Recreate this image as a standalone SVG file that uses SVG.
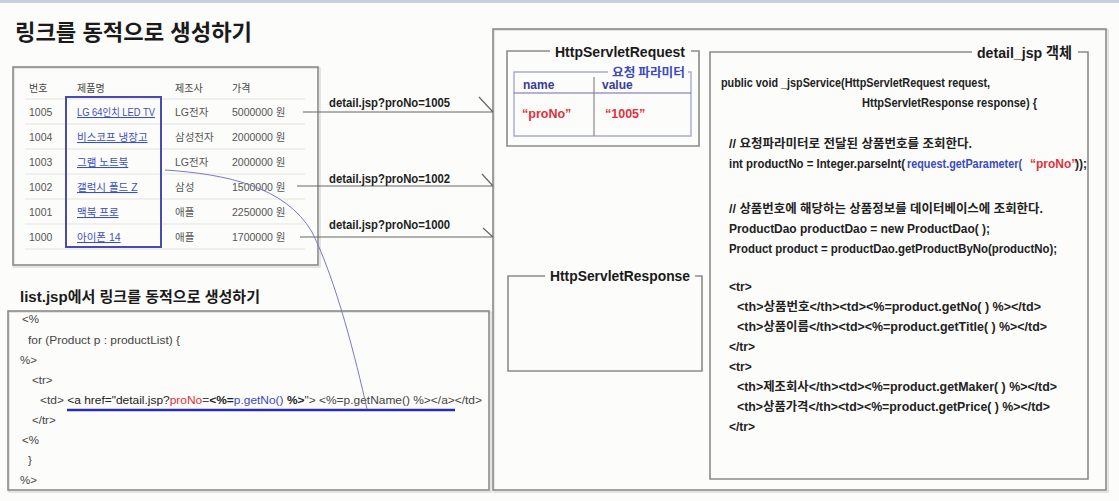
<svg xmlns="http://www.w3.org/2000/svg" width="1119" height="501" viewBox="0 0 1119 501">
<defs>
<style>
.bg{fill:#fcfcfa}
.frame{fill:none;stroke:#8a8a8a;stroke-width:1.6}
.shadow{fill:none;stroke:#d4d4d4;stroke-width:1.2}
.ttl{font-family:"Liberation Sans","Noto Sans CJK KR",sans-serif;font-weight:bold;fill:#1a1a1a}
.th{font-family:"Noto Sans CJK KR",sans-serif;font-size:10px;fill:#444}
.td{font-family:"Liberation Sans","Noto Sans CJK KR",sans-serif;font-size:10.5px;fill:#555}
.lnk{font-family:"Liberation Sans","Noto Sans CJK KR",sans-serif;font-size:10.5px;fill:#3b4fc4;text-decoration:underline}
.sep{stroke:#e2e2e2;stroke-width:1}
.rc{font-family:"Liberation Sans","Noto Sans CJK KR",sans-serif;font-size:12px;font-weight:bold;fill:#222}
.lc{font-family:"Liberation Sans","Noto Sans CJK KR",sans-serif;font-size:11.5px;fill:#444}
.url{font-family:"Liberation Sans","Noto Sans CJK KR",sans-serif;font-size:12px;font-weight:bold;fill:#222}
.blue{fill:#3a4ac0}
.red{fill:#e0303a}
.conn{fill:none;stroke:#666;stroke-width:1.2}
</style>
</defs>
<rect class="bg" x="0" y="0" width="1119" height="501"/>
<rect x="0" y="0" width="1119" height="3" fill="#c9cfdc"/>

<text class="ttl" x="15" y="40" font-size="22" textLength="237" lengthAdjust="spacingAndGlyphs">링크를 동적으로 생성하기</text>

<g id="product-table">
<rect class="shadow" x="14" y="68" width="306" height="199"/>
<rect class="frame" x="13" y="67" width="305" height="198" fill="#fdfdfc"/>
<text class="th" x="29" y="92">번호</text>
<text class="th" x="77" y="92">제품명</text>
<text class="th" x="175" y="92">제조사</text>
<text class="th" x="232" y="92">가격</text>
<line class="sep" x1="25" y1="99" x2="305" y2="99"/>
<line class="sep" x1="25" y1="124" x2="305" y2="124"/>
<line class="sep" x1="25" y1="149" x2="305" y2="149"/>
<line class="sep" x1="25" y1="174" x2="305" y2="174"/>
<line class="sep" x1="25" y1="199" x2="305" y2="199"/>
<line class="sep" x1="25" y1="224" x2="305" y2="224"/>
<line class="sep" x1="25" y1="249" x2="305" y2="249"/>
<text class="td" x="29" y="116">1005</text>
<text class="lnk" x="77" y="116" textLength="78" lengthAdjust="spacingAndGlyphs">LG 64인치 LED TV</text>
<text class="td" x="175" y="116">LG전자</text>
<text class="td" x="232" y="116">5000000 원</text>
<text class="td" x="29" y="141">1004</text>
<text class="lnk" x="77" y="141">비스코프 냉장고</text>
<text class="td" x="175" y="141">삼성전자</text>
<text class="td" x="232" y="141">2000000 원</text>
<text class="td" x="29" y="166">1003</text>
<text class="lnk" x="77" y="166">그램 노트북</text>
<text class="td" x="175" y="166">LG전자</text>
<text class="td" x="232" y="166">2000000 원</text>
<text class="td" x="29" y="191">1002</text>
<text class="lnk" x="77" y="191">갤럭시 폴드 Z</text>
<text class="td" x="175" y="191">삼성</text>
<text class="td" x="232" y="191">1500000 원</text>
<text class="td" x="29" y="216">1001</text>
<text class="lnk" x="77" y="216">맥북 프로</text>
<text class="td" x="175" y="216">애플</text>
<text class="td" x="232" y="216">2250000 원</text>
<text class="td" x="29" y="241">1000</text>
<text class="lnk" x="77" y="241">아이폰 14</text>
<text class="td" x="175" y="241">애플</text>
<text class="td" x="232" y="241">1700000 원</text>
<rect x="66" y="97" width="95" height="150" fill="none" stroke="#4a4ab0" stroke-width="2"/>
</g>

<g id="list-jsp">
<text class="ttl" x="20" y="302" font-size="15" textLength="240" lengthAdjust="spacingAndGlyphs">list.jsp에서 링크를 동적으로 생성하기</text>
<rect class="shadow" x="9" y="312" width="482" height="180"/>
<rect class="frame" x="8" y="311" width="481" height="179" fill="#fdfdfc"/>
<text class="lc" x="22" y="323">&lt;%</text>
<text class="lc" x="28" y="344" textLength="152" lengthAdjust="spacingAndGlyphs">for (Product p : productList) {</text>
<text class="lc" x="20" y="364">%&gt;</text>
<text class="lc" x="32" y="384">&lt;tr&gt;</text>
<text class="lc" x="40" y="404" textLength="442" lengthAdjust="spacingAndGlyphs">&lt;td&gt; <tspan fill="#222">&lt;a href="detail.jsp?</tspan><tspan class="red">proNo</tspan>=<tspan font-weight="bold" fill="#222">&lt;%=</tspan><tspan class="blue">p.getNo()</tspan><tspan font-weight="bold" fill="#222"> %&gt;</tspan>"&gt; &lt;%=p.getName() %&gt;&lt;/a&gt;&lt;/td&gt;</text>
<line x1="67" y1="410" x2="455" y2="410" stroke="#2b2bb0" stroke-width="2.5"/>
<text class="lc" x="32" y="424">&lt;/tr&gt;</text>
<text class="lc" x="22" y="444">&lt;%</text>
<text class="lc" x="28" y="464">}</text>
<text class="lc" x="20" y="484">%&gt;</text>
</g>

<g id="server-container">
<rect class="shadow" x="494" y="30" width="614" height="462"/>
<rect class="frame" x="493" y="29" width="613" height="461" fill="#fdfdfc"/>
</g>

<g id="http-servlet-request">
<path class="frame" d="M550,51 H507 V146 H699 V51 H691"/>
<text class="ttl" x="620" y="57" font-size="15" text-anchor="middle" textLength="130" lengthAdjust="spacingAndGlyphs">HttpServletRequest</text>
<g id="request-params">
<path d="M608,72 H514 V136 H691 V72 H688" fill="none" stroke="#a8a8d4" stroke-width="1.4"/>
<text x="612" y="77" font-family="Noto Sans CJK KR, sans-serif" font-size="12" font-weight="bold" class="blue" textLength="73" lengthAdjust="spacingAndGlyphs">요청 파라미터</text>
<text x="523" y="89" font-family="Liberation Sans, sans-serif" font-size="12" font-weight="bold" fill="#3b3b9b">name</text>
<text x="602" y="89" font-family="Liberation Sans, sans-serif" font-size="12" font-weight="bold" fill="#3b3b9b">value</text>
<line x1="514" y1="93" x2="691" y2="93" stroke="#6a6aa8" stroke-width="1.2"/>
<line x1="594" y1="77" x2="594" y2="136" stroke="#888" stroke-width="1.2"/>
<text x="522" y="118" font-family="Liberation Sans, sans-serif" font-size="12.5" font-weight="bold" class="red">“proNo”</text>
<text x="605" y="118" font-family="Liberation Sans, sans-serif" font-size="12.5" font-weight="bold" class="red">“1005”</text>
</g>
</g>

<g id="http-servlet-response">
<path class="frame" d="M545,276 H508 V371 H702 V276 H695"/>
<text class="ttl" x="620" y="281" font-size="15" text-anchor="middle" textLength="140" lengthAdjust="spacingAndGlyphs">HttpServletResponse</text>
</g>

<g id="detail-jsp">
<path class="frame" d="M972,52 H710 V479 H1088 V52 H1078"/>
<text class="ttl" x="977" y="58" font-size="15" textLength="95" lengthAdjust="spacingAndGlyphs">detail_jsp 객체</text>
<text class="rc" x="721" y="87" textLength="269" lengthAdjust="spacingAndGlyphs">public void _jspService(HttpServletRequest request,</text>
<text class="rc" x="862" y="107" textLength="175" lengthAdjust="spacingAndGlyphs">HttpServletResponse response) {</text>
<text class="rc" x="729" y="148" textLength="243" lengthAdjust="spacingAndGlyphs">// 요청파라미터로 전달된 상품번호를 조회한다.</text>
<text class="rc" x="729" y="168" textLength="176" lengthAdjust="spacingAndGlyphs">int productNo = Integer.parseInt(</text>
<text class="rc blue" x="907" y="168" textLength="115" lengthAdjust="spacingAndGlyphs">request.getParameter(</text>
<text class="rc red" x="1030" y="168" font-size="10.5">“proNo”</text>
<text class="rc" x="1075" y="168" font-size="11">));</text>
<text class="rc" x="729" y="213" textLength="314" lengthAdjust="spacingAndGlyphs">// 상품번호에 해당하는 상품정보를 데이터베이스에 조회한다.</text>
<text class="rc" x="729" y="233" textLength="261" lengthAdjust="spacingAndGlyphs">ProductDao productDao = new ProductDao( );</text>
<text class="rc" x="729" y="253" textLength="328" lengthAdjust="spacingAndGlyphs">Product product = productDao.getProductByNo(productNo);</text>
<text class="rc" x="729" y="291">&lt;tr&gt;</text>
<text class="rc" x="737" y="311" textLength="304" lengthAdjust="spacingAndGlyphs">&lt;th&gt;상품번호&lt;/th&gt;&lt;td&gt;&lt;%=product.getNo( ) %&gt;&lt;/td&gt;</text>
<text class="rc" x="737" y="331" textLength="310" lengthAdjust="spacingAndGlyphs">&lt;th&gt;상품이름&lt;/th&gt;&lt;td&gt;&lt;%=product.getTitle( ) %&gt;&lt;/td&gt;</text>
<text class="rc" x="729" y="351">&lt;/tr&gt;</text>
<text class="rc" x="729" y="371">&lt;tr&gt;</text>
<text class="rc" x="737" y="391" textLength="320" lengthAdjust="spacingAndGlyphs">&lt;th&gt;제조회사&lt;/th&gt;&lt;td&gt;&lt;%=product.getMaker( ) %&gt;&lt;/td&gt;</text>
<text class="rc" x="737" y="411" textLength="313" lengthAdjust="spacingAndGlyphs">&lt;th&gt;상품가격&lt;/th&gt;&lt;td&gt;&lt;%=product.getPrice( ) %&gt;&lt;/td&gt;</text>
<text class="rc" x="729" y="431">&lt;/tr&gt;</text>
</g>

<g id="connectors">
<path class="conn" d="M303,112 H493 M479,97 L493,112"/>
<text class="url" x="329" y="107" textLength="121" lengthAdjust="spacingAndGlyphs">detail.jsp?proNo=1005</text>
<path class="conn" d="M297,186 H493 M482,174 L493,186"/>
<text class="url" x="329" y="183" textLength="121" lengthAdjust="spacingAndGlyphs">detail.jsp?proNo=1002</text>
<path class="conn" d="M300,237 H493 M483,228 L493,237"/>
<text class="url" x="329" y="229" textLength="121" lengthAdjust="spacingAndGlyphs">detail.jsp?proNo=1000</text>
<path d="M165,170 C225,174 285,186 312,232 C336,280 356,360 367,409" fill="none" stroke="#7a7ac8" stroke-width="1"/>
</g>
</svg>
